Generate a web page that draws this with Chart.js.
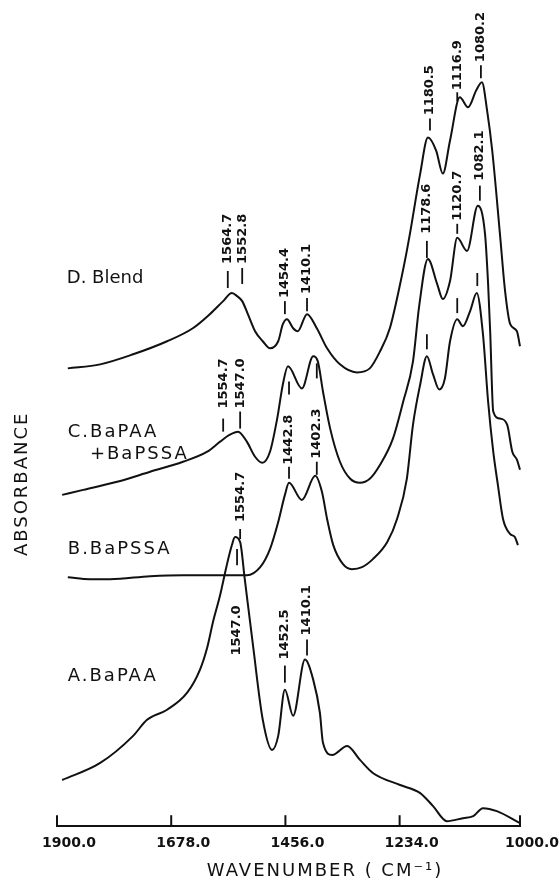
<!DOCTYPE html>
<html>
<head>
<meta charset="utf-8">
<title>IR spectra – BaPAA / BaPSSA</title>
<script src="https://cdn.jsdelivr.net/npm/chart.js@4.4.1/dist/chart.umd.min.js"></script>
<style>
  html, body { margin: 0; padding: 0; background: #fff; }
  #wrap { width: 560px; height: 879px; position: relative; }
</style>
</head>
<body>
<div id="wrap"><canvas id="ir"></canvas></div>
<script>
// ---- data (wavenumber in cm-1, absorbance in stacked arbitrary units) ----
const tickValues = [1900, 1678, 1456, 1234, 1000];

// A. BaPAA
const wnA  = [1890, 1816, 1752, 1725, 1686, 1647, 1622, 1608, 1597, 1583, 1570, 1560, 1554, 1544, 1535, 1519, 1500, 1482, 1470, 1457, 1441, 1418, 1402, 1389, 1383, 1365, 1336, 1311, 1286, 1233, 1194, 1169, 1142, 1111, 1091, 1072, 1045, 1000];
const absA = [0.46, 0.63, 0.90, 1.06, 1.16, 1.33, 1.56, 1.78, 2.03, 2.30, 2.60, 2.80, 2.88, 2.83, 2.46, 1.80, 1.06, 0.76, 0.90, 1.36, 1.10, 1.66, 1.46, 1.13, 0.83, 0.71, 0.80, 0.66, 0.53, 0.41, 0.33, 0.20, 0.05, 0.08, 0.10, 0.18, 0.15, 0.03];

// B. BaPSSA
const wnB  = [1879, 1836, 1797, 1719, 1655, 1589, 1531, 1505, 1486, 1470, 1457, 1449, 1424, 1398, 1385, 1375, 1363, 1344, 1327, 1307, 1286, 1258, 1239, 1220, 1208, 1194, 1181, 1169, 1157, 1146, 1136, 1122, 1111, 1097, 1084, 1072, 1062, 1052, 1043, 1033, 1019, 1010, 1004];
const absB = [2.48, 2.46, 2.46, 2.49, 2.50, 2.50, 2.50, 2.58, 2.76, 3.03, 3.30, 3.42, 3.25, 3.49, 3.33, 3.06, 2.80, 2.61, 2.56, 2.58, 2.66, 2.83, 3.06, 3.46, 4.00, 4.40, 4.68, 4.50, 4.35, 4.46, 4.83, 5.05, 4.98, 5.13, 5.31, 4.90, 4.23, 3.73, 3.40, 3.06, 2.91, 2.88, 2.80];

// C. BaPAA + BaPSSA
const wnC  = [1890, 1849, 1783, 1719, 1655, 1608, 1583, 1564, 1548, 1531, 1515, 1501, 1486, 1472, 1461, 1451, 1424, 1402, 1393, 1383, 1369, 1350, 1330, 1311, 1292, 1272, 1247, 1227, 1208, 1196, 1179, 1161, 1150, 1136, 1122, 1103, 1082, 1068, 1062, 1058, 1052, 1039, 1025, 1015, 1006, 1000];
const absC = [3.30, 3.35, 3.43, 3.53, 3.63, 3.73, 3.83, 3.90, 3.93, 3.83, 3.68, 3.62, 3.73, 4.06, 4.40, 4.58, 4.36, 4.68, 4.63, 4.33, 3.96, 3.63, 3.46, 3.42, 3.46, 3.60, 3.86, 4.23, 4.63, 5.18, 5.65, 5.40, 5.25, 5.43, 5.86, 5.73, 6.18, 5.90, 5.40, 4.93, 4.13, 4.06, 4.00, 3.73, 3.65, 3.55];

// D. Blend
const wnD  = [1879, 1816, 1752, 1686, 1636, 1603, 1577, 1560, 1550, 1540, 1529, 1515, 1500, 1486, 1470, 1461, 1453, 1441, 1432, 1414, 1395, 1375, 1350, 1317, 1292, 1272, 1253, 1233, 1220, 1214, 1194, 1179, 1163, 1150, 1136, 1117, 1101, 1085, 1074, 1064, 1054, 1039, 1029, 1019, 1006, 1000];
const absD = [4.56, 4.60, 4.70, 4.83, 4.96, 5.10, 5.23, 5.31, 5.28, 5.23, 5.10, 4.93, 4.83, 4.76, 4.83, 5.00, 5.05, 4.96, 4.93, 5.10, 4.96, 4.76, 4.60, 4.52, 4.56, 4.73, 4.96, 5.40, 5.73, 5.90, 6.50, 6.86, 6.73, 6.50, 6.83, 7.26, 7.16, 7.33, 7.41, 7.13, 6.73, 5.90, 5.33, 5.00, 4.93, 4.78];

// peak labels: text, column wavenumber, dash low, dash high, text start
const peakLabels = [
  ['1564.7', 1568, 5.36, 5.53, 5.60],
  ['1552.8', 1540, 5.40, 5.56, 5.60],
  ['1454.4', 1457, 5.10, 5.23, 5.26],
  ['1410.1', 1414, 5.13, 5.26, 5.30],
  ['1180.5', 1175, 6.93, 7.05, 7.08],
  ['1116.9', 1122, 7.22, 7.31, 7.33],
  ['1080.2', 1076, 7.45, 7.58, 7.61],
  ['1554.7', 1577, 3.93, 4.06, 4.16],
  ['1547.0', 1544, 3.96, 4.13, 4.16],
  ['1178.6', 1181, 5.66, 5.83, 5.90],
  ['1120.7', 1122, 5.90, 6.00, 6.03],
  ['1082.1', 1078, 6.23, 6.38, 6.43],
  ['1442.8', 1449, 3.46, 3.58, 3.60],
  ['1402.3', 1395, 3.50, 3.63, 3.66],
  ['', 1449, 4.30, 4.43, 0],
  ['', 1395, 4.46, 4.61, 0],
  ['', 1181, 4.75, 4.90, 0],
  ['', 1122, 5.11, 5.26, 0],
  ['', 1083, 5.38, 5.51, 0],
  ['1554.7', 1544, 2.86, 2.96, 3.03],
  ['1547.0', 1550, 2.60, 2.76, 1.70],
  ['1452.5', 1457, 1.43, 1.60, 1.66],
  ['1410.1', 1414, 1.70, 1.86, 1.90]
];

// curve names: text, wavenumber, absorbance (baseline)
const seriesNames = [
  ['D. Blend', 1881, 5.41],
  ['C.BaPAA', 1879, 3.88],
  ['+BaPSSA', 1836, 3.66],
  ['B.BaPSSA', 1879, 2.71],
  ['A.BaPAA', 1879, 1.45]
];

const INK = '#111';

function toPoints(wn, ab) {
  return wn.map((w, i) => ({ x: w, y: ab[i] }));
}

function trace(wn, ab) {
  return {
    data: toPoints(wn, ab),
    borderColor: INK,
    borderWidth: 2,
    pointRadius: 0,
    fill: false,
    cubicInterpolationMode: 'monotone',
    clip: false
  };
}

// labels, inward tick marks and axis titles
const annotate = {
  id: 'annotate',
  afterDraw(chart) {
    const { ctx, scales: { x, y } } = chart;
    ctx.save();
    ctx.strokeStyle = INK;
    ctx.fillStyle = INK;

    ctx.lineWidth = 2;
    x.ticks.forEach(t => {
      const px = x.getPixelForValue(t.value);
      ctx.beginPath();
      ctx.moveTo(px, y.bottom);
      ctx.lineTo(px, y.bottom - 11);
      ctx.stroke();
    });

    ctx.font = 'bold 13px "DejaVu Sans"';
    ctx.textBaseline = 'middle';
    ctx.textAlign = 'left';
    peakLabels.forEach(([txt, wn, d0, d1, s]) => {
      const px = x.getPixelForValue(wn);
      ctx.lineWidth = 1.8;
      ctx.beginPath();
      ctx.moveTo(px, y.getPixelForValue(d0));
      ctx.lineTo(px, y.getPixelForValue(d1));
      ctx.stroke();
      if (txt) {
        ctx.save();
        ctx.translate(px, y.getPixelForValue(s));
        ctx.rotate(-Math.PI / 2);
        ctx.fillText(txt, 0, 0);
        ctx.restore();
      }
    });

    ctx.font = '18px "DejaVu Sans"';
    ctx.letterSpacing = '2px';
    ctx.textBaseline = 'alphabetic';
    seriesNames.forEach(([txt, wn, v]) => {
      ctx.letterSpacing = txt.includes(' ') ? '0px' : '2px';
      ctx.fillText(txt, x.getPixelForValue(wn), y.getPixelForValue(v));
    });
    ctx.letterSpacing = '2px';

    ctx.textAlign = 'center';
    ctx.fillText('WAVENUMBER ( CM\u207B\u00B9)', x.getPixelForValue(1379), y.bottom + 50);

    ctx.save();
    ctx.translate(x.left - 35, y.getPixelForValue(3.41));
    ctx.rotate(-Math.PI / 2);
    ctx.textBaseline = 'middle';
    ctx.fillText('ABSORBANCE', 0, 0);
    ctx.restore();

    ctx.restore();
  }
};

new Chart(document.getElementById('ir'), {
  type: 'line',
  data: {
    datasets: [trace(wnA, absA), trace(wnB, absB), trace(wnC, absC), trace(wnD, absD)]
  },
  options: {
    responsive: true,
    maintainAspectRatio: false,
    animation: false,
    layout: { padding: { left: 57, right: 40, top: 23, bottom: 18 } },
    plugins: { legend: { display: false }, tooltip: { enabled: false } },
    scales: {
      x: {
        type: 'linear',
        reverse: true,
        min: 1000,
        max: 1900,
        afterBuildTicks: scale => { scale.ticks = tickValues.map(v => ({ value: v })); },
        grid: { drawOnChartArea: false, drawTicks: false },
        border: { display: true, color: INK, width: 2 },
        ticks: {
          color: INK,
          padding: 9,
          labelOffset: 12,
          maxRotation: 0,
          autoSkip: false,
          font: { family: "'DejaVu Sans'", size: 14, weight: 'bold' },
          callback: v => Number(v).toFixed(1)
        }
      },
      y: {
        display: false,
        min: 0,
        max: 8
      }
    }
  },
  plugins: [annotate]
});
</script>
</body>
</html>
